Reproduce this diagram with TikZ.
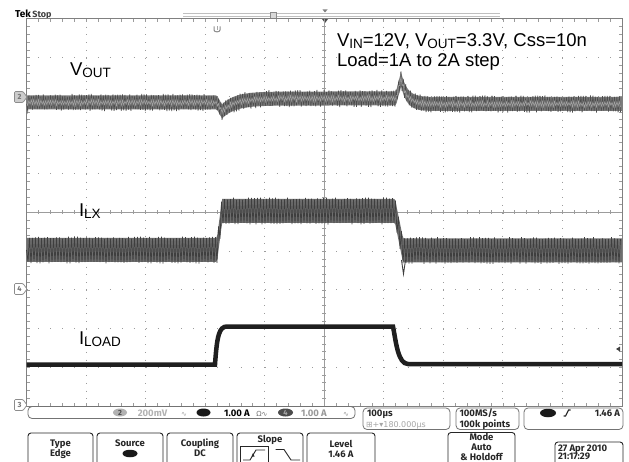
\documentclass[tikz,border=0pt]{standalone}
\usepackage{fontspec}
\setmainfont{Liberation Sans}
\newfontfamily\tekfont{Fira Sans}
\newfontfamily\symfont{DejaVu Sans}
\usetikzlibrary{shapes.geometric}
\definecolor{gridgray}{HTML}{9C9C9C}
\definecolor{voutdark}{HTML}{4C4C4C}
\definecolor{voutmid}{HTML}{7C7C7C}
\definecolor{voutlight}{HTML}{A2A2A2}
\definecolor{ilxdark}{HTML}{3E3E3E}
\definecolor{ilxmid}{HTML}{6E6E6E}
\newcommand{\sigsub}[2]{#1\raisebox{-2bp}{\fontsize{13.5bp}{14bp}\selectfont #2}}

\begin{document}
\begin{tikzpicture}[x=1bp,y=-1bp,
  declare function={
    vout(\x)=(\x<217)?102.5:((\x<222)?(102.5+1.8*(\x-217)):((\x<396)?(98.5+13*exp(-max(\x-222,0)/13)):((\x<401)?(98.5-3.9*(\x-396)):(104-25*exp(-max(\x-401,0)/6)))));
    ilx(\x)=(\x<217)?250:((\x<222)?(250-7.8*(\x-217)):((\x<395)?211:((\x<403)?(211+4.9*(\x-395)):250.5)));
  }]
\tikzstyle{every node}=[inner sep=0pt,outer sep=0pt]
\tikzstyle{sigtext}=[anchor=base west,font=\fontsize{18.5bp}{20bp}\selectfont]
\tikzstyle{tek}=[anchor=base,font=\tekfont\bfseries\fontsize{9.5bp}{10bp}\selectfont,text=black!85]
\tikzstyle{griddots}=[gridgray,line width=1bp]
\tikzstyle{gridtick}=[gridgray,line width=0.7bp]
\tikzstyle{menubox}=[draw=black!85,line width=0.9bp,rounded corners=3bp]
\tikzstyle{readbox}=[draw=black!55,line width=0.8bp,rounded corners=4bp]
\tikzstyle{chmark}=[draw=black!45,line width=0.7bp,rounded corners=1bp]
\tikzstyle{chdigit}=[font=\tekfont\bfseries\fontsize{7.5bp}{8bp}\selectfont,text=black!55]
\pgfmathsetseed{4}
\useasboundingbox (0,0) rectangle (629,462);
\fill[white] (0,0) rectangle (629,462);
% header
    \node[anchor=base west,font=\tekfont\bfseries\fontsize{10bp}{11bp}\selectfont] (tek) at (15,17.5) {Tek};
    \node[anchor=base west,font=\tekfont\bfseries\fontsize{9bp}{10bp}\selectfont,text=black!75,xshift=1.5bp] (stop) at (tek.base east) {Stop};
    \draw[black!25,line width=0.6bp] (183,13.8) -- (500,13.8);
    \draw[black!25,line width=0.6bp] (183,16) -- (500,16);
    \draw[black!45,fill=black!15,line width=0.5bp] (270.5,12) rectangle (276,18.5);
    \fill[black!50] (322.5,9.5) -- (327.5,9.5) -- (325,12.5) -- cycle;
    \fill[black!70] (322,19) -- (328,19) -- (325,23) -- cycle;
    \draw[black!45,line width=1bp] (214,26.5) -- (214,30) .. controls (214,32.5) and (220,32.5) .. (220,30) -- (220,26.5);
    \draw[black!35,line width=0.7bp] (217,26.5) -- (217,30.5);
% graticule
    \foreach \i in {1,2,3,4,6,7,8,9} {
      \draw[griddots,dash pattern=on 1bp off 6.74bp] ({26.5+\i*59.55},19) -- ({26.5+\i*59.55},406);
      \draw[griddots,dash pattern=on 1bp off 10.91bp] (26.5,{19+\i*38.7}) -- (622,{19+\i*38.7});
    }
    \draw[gridtick] (324.25,19) -- (324.25,406);
    \draw[gridtick] (26.5,212.5) -- (622,212.5);
    \foreach \k in {1,...,49} {
      \draw[gridtick] ({26.5+\k*11.91},19) -- ++(0,3);
      \draw[gridtick] ({26.5+\k*11.91},406) -- ++(0,-3);
      \draw[gridtick] ({26.5+\k*11.91},210.5) -- ++(0,4);
      \draw[gridtick] (26.5,{19+\k*7.74}) -- ++(3,0);
      \draw[gridtick] (622,{19+\k*7.74}) -- ++(-3,0);
      \draw[gridtick] (322.25,{19+\k*7.74}) -- ++(4,0);
    }
    \draw[black!50,line width=1bp] (26.5,19) rectangle (622,406);
% VOUT trace
    \fill[voutmid] plot[domain=26.5:622,samples=400] (\x,{vout(\x)-7}) -- plot[domain=622:26.5,samples=400] (\x,{vout(\x)+7}) -- cycle;
    \draw[voutdark,line width=0.7bp] (26.5,{vout(26.5)}) \foreach \i in {1,...,495} { -- ({26.5+1.2*\i},{vout(26.5+1.2*\i)+ifthenelse(isodd(\i),1,-1)*(7.3+1.4*rand)}) };
    \draw[voutlight,line width=0.6bp] (26.5,{vout(26.5)}) \foreach \i in {1,...,495} { -- ({26.5+1.2*\i},{vout(26.5+1.2*\i)+ifthenelse(isodd(\i),1,-1)*(2.3+0.8*rand)}) };
% ILX trace
    \fill[ilxmid] plot[domain=26.5:622,samples=500] (\x,{ilx(\x)-12}) -- plot[domain=622:26.5,samples=500] (\x,{ilx(\x)+12}) -- cycle;
    \draw[ilxdark,line width=0.7bp] (26.5,{ilx(26.5)}) \foreach \i in {1,...,396} { -- ({26.5+1.5*\i},{ilx(26.5+1.5*\i)+ifthenelse(isodd(\i),1,-1)*(12.3+1.2*rand)}) };
    \draw[ilxdark,line width=0.9bp] (401.5,260) -- (403.5,274) -- (405.5,260);
% ILOAD trace
    \draw[black!88,line width=4.5bp] (26.5,364.5) -- (215,364.5) .. controls (217,336) and (219,326.5) .. (227,326.5) -- (393,326.5) .. controls (396,342) and (398,364) .. (408,364) -- (622,364);
    \fill[black!75] (616,349) -- (620,346.5) -- (620,351.5) -- cycle;
% channel markers
    \draw[chmark,fill=black!20] (14.5,91.5) -- (23,91.5) -- (27,97) -- (23,102.5) -- (14.5,102.5) -- cycle;
    \node[chdigit] (m2) at (19.5,97) {2};
    \draw[chmark,fill=white] (14.5,283.5) -- (23,283.5) -- (27,289) -- (23,294.5) -- (14.5,294.5) -- cycle;
    \node[chdigit] (m4) at (19.5,289) {4};
    \draw[chmark,fill=white] (14.5,399.5) -- (23,399.5) -- (27,405) -- (23,410.5) -- (14.5,410.5) -- cycle;
    \node[chdigit] (m3) at (19.5,405) {3};
% trace labels
    \node[sigtext] (lvout) at (70,76) {\sigsub{V}{OUT}};
    \node[sigtext] (lilx) at (79,217) {\sigsub{I}{LX}};
    \node[sigtext] (liload) at (79,344) {\sigsub{I}{LOAD}};
    \node[sigtext] (cond) at (337,47) {\sigsub{V}{IN}=12V, \sigsub{V}{OUT}=3.3V, Css=10n};
    \node[sigtext] (load) at (337,67) {Load=1A to 2A step};
% readouts
    \draw[readbox] (28,406.5) rectangle (355,418.5);
    \node[ellipse,fill=black!30,minimum width=14bp,minimum height=8bp,chdigit,text=black!70] (r2) at (120,412.5) {2};
    \node[tek,text=black!30] (r2v) at (152.5,416) {200mV};
    \node[anchor=base,font=\symfont\fontsize{7bp}{8bp}\selectfont,text=black!35] (r2b) at (184,416) {∿};
    \node[ellipse,fill=black!90,minimum width=14bp,minimum height=8bp] (r3) at (203.5,412.5) {};
    \node[tek,text=black] (r3v) at (237,416) {1.00 A};
    \node[anchor=base,font=\symfont\fontsize{7bp}{8bp}\selectfont,text=black!55] (r3b) at (262,416) {Ω∿};
    \node[ellipse,fill=black!70,minimum width=15bp,minimum height=8bp,chdigit,text=black!35] (r4) at (285.5,412.5) {4};
    \node[tek,text=black!40] (r4v) at (314,416) {1.00 A};
    \node[anchor=base,font=\symfont\fontsize{7bp}{8bp}\selectfont,text=black!40] (r4b) at (346,416) {∿};
    \draw[readbox] (363,408) rectangle (450,429.5);
    \node[tek,anchor=base west] (tdiv) at (367,416) {100μs};
    \node[anchor=base west,font=\symfont\fontsize{8bp}{9bp}\selectfont,text=black!35] (tpos) at (366,427) {⊞+▾180.000μs};
    \draw[readbox] (456,408) rectangle (519,429.5);
    \node[tek,anchor=base west] (srate) at (459.5,416) {100MS/s};
    \node[tek,anchor=base west] (rlen) at (459.5,427) {100k points};
    \draw[readbox] (524,408) rectangle (623,429.5);
    \node[ellipse,fill=black!90,minimum width=16bp,minimum height=8.5bp] (tsrc) at (548,413) {};
    \draw[black!85,line width=1.1bp] (563.5,416) -- (565.5,416) -- (568.5,410) -- (570.5,410);
    \node[tek,anchor=base east] (tlev) at (620,416) {1.46 A};
% menu buttons
    \draw[menubox] (28,433) rectangle (93,466);
    \node[tek] (typeT) at (60.5,446) {Type};
    \node[tek] (typeE) at (60.5,456) {Edge};
    \draw[menubox] (97,433) rectangle (163,466);
    \node[tek] (srcT) at (130,446) {Source};
    \node[ellipse,fill=black!90,minimum width=15bp,minimum height=7.5bp] (srcE) at (130,453.5) {};
    \draw[menubox] (167,433) rectangle (233,466);
    \node[tek] (coupT) at (200,446) {Coupling};
    \node[tek] (coupE) at (200,456) {DC};
    \draw[menubox] (237,433) rectangle (303,466);
    \node[tek] (slopeT) at (270,442) {Slope};
    \draw[black!85,line width=0.8bp] (240.5,446.5) rectangle (268,466);
    \draw[black!85,line width=0.9bp] (243,460) -- (250,460) -- (256,450) -- (265,450);
    \fill[black!85] (253,453) -- (251.5,456.5) -- (254.5,456.5) -- cycle;
    \draw[black!85,line width=0.9bp] (275.5,449.5) -- (284,449.5) -- (291,460) -- (300,460);
    \draw[menubox] (307,433) rectangle (375,466);
    \node[tek] (levT) at (341,447) {Level};
    \node[tek] (levE) at (341,457.5) {1.46 A};
    \draw[menubox] (448,432.5) rectangle (515,466);
    \node[tek] (modeT) at (481.5,440.5) {Mode};
    \node[tek] (modeA) at (481.5,450.5) {Auto};
    \node[tek] (modeH) at (481.5,460) {\& Holdoff};
    \draw[menubox] (555,442) rectangle (623,466);
    \node[tek,anchor=base west] (date) at (558,451) {27 Apr 2010};
    \node[tek,anchor=base west] (clock) at (558,459.5) {21:17:29};
\end{tikzpicture}
\end{document}
